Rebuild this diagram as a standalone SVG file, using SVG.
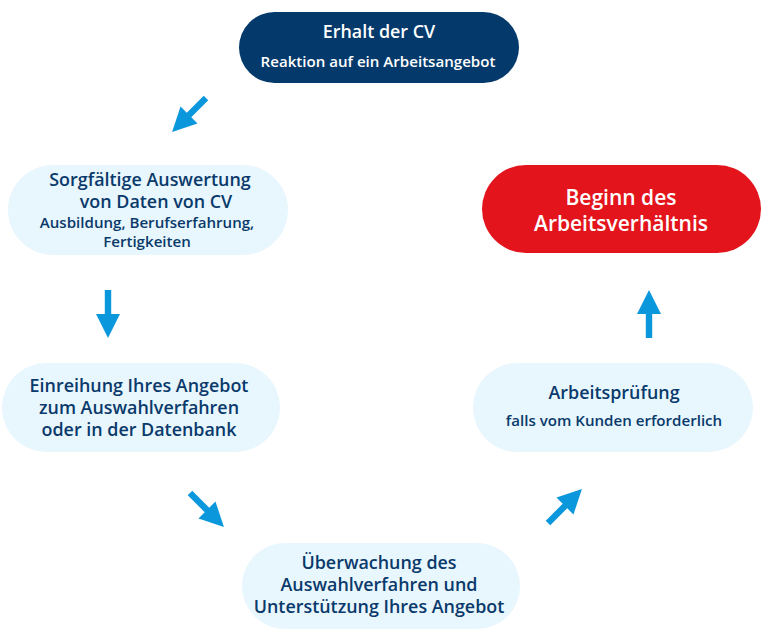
<svg xmlns="http://www.w3.org/2000/svg" xmlns:xlink="http://www.w3.org/1999/xlink" width="761" height="631" viewBox="0 0 761 631">
<style>
text{font-family:"Open Sans","Noto Sans","DejaVu Sans",sans-serif;text-anchor:middle;font-weight:560}
.light{fill:#e8f6fd}
.dark{fill:#0a3a6b}
.w{fill:#ffffff}
.t16{font-size:17.9px}
.t14{font-size:15.1px}
.t18{font-size:21px}
.arr{fill:#0b97dc}
</style>
<defs>
<path id="arr" d="M0,-3.2 H24 V-12 L48,0 L24,12 V3.2 H0 Z"/>
</defs>
<g id="connectors" class="arr">
<use xlink:href="#arr" transform="translate(206,98) rotate(135)"/>
<use xlink:href="#arr" transform="translate(108,290) rotate(90)"/>
<use xlink:href="#arr" transform="translate(190,493) rotate(45)"/>
<use xlink:href="#arr" transform="translate(548,523) rotate(-45)"/>
<use xlink:href="#arr" transform="translate(649,338) rotate(-90)"/>
</g>
<g id="node-erhalt">
<rect x="239" y="12" width="280" height="71" rx="35.5" fill="#033a6b"/>
<text class="w t16" x="379" y="38">Erhalt der CV</text>
<text class="w t14" x="378" y="67">Reaktion auf ein Arbeitsangebot</text>
</g>
<g id="node-auswertung">
<rect class="light" x="8" y="165" width="280" height="90" rx="45"/>
<text class="dark t16" x="150" y="186">Sorgfältige Auswertung</text>
<text class="dark t16" x="156" y="208">von Daten von CV</text>
<text class="dark t14" x="147" y="228">Ausbildung, Berufserfahrung,</text>
<text class="dark t14" x="147" y="247">Fertigkeiten</text>
</g>
<g id="node-beginn">
<rect x="482" y="165" width="279" height="88" rx="44" fill="#e3141c"/>
<text class="w t18" x="621" y="205">Beginn des</text>
<text class="w t18" x="621" y="231">Arbeitsverhältnis</text>
</g>
<g id="node-einreihung">
<rect class="light" x="2" y="363" width="278" height="89" rx="44.5"/>
<text class="dark t16" x="139" y="392">Einreihung Ihres Angebot</text>
<text class="dark t16" x="139" y="414">zum Auswahlverfahren</text>
<text class="dark t16" x="139" y="436">oder in der Datenbank</text>
</g>
<g id="node-pruefung">
<rect class="light" x="473" y="363" width="280" height="89" rx="44.5"/>
<text class="dark t16" x="614" y="399">Arbeitsprüfung</text>
<text class="dark t14" x="614" y="426">falls vom Kunden erforderlich</text>
</g>
<g id="node-ueberwachung">
<rect class="light" x="242" y="543" width="278" height="86" rx="43"/>
<text class="dark t16" x="379" y="569">Überwachung des</text>
<text class="dark t16" x="379" y="591">Auswahlverfahren und</text>
<text class="dark t16" x="379" y="613">Unterstützung Ihres Angebot</text>
</g>
</svg>
